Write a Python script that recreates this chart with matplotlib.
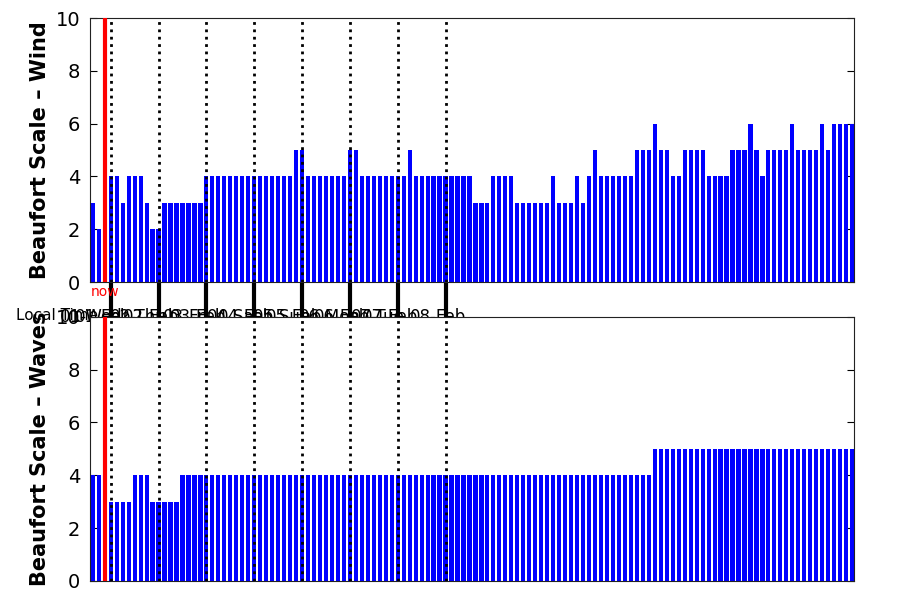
import numpy as np
import matplotlib.pyplot as plt

# 3-hourly forecast, hours relative to 01-Feb 00:00 local time
start_hour = -9
step_hours = 3
now_hour = -3

wind_bft = [3, 2, 2, 4, 4, 3, 4, 4, 4, 3, 2, 2, 3, 3, 3, 3, 3, 3, 3,
            4, 4, 4, 4, 4, 4, 4, 4, 4, 4, 4, 4, 4, 4, 4,
            5, 5, 4, 4, 4, 4, 4, 4, 4, 5, 5, 4, 4, 4, 4, 4, 4, 4, 4,
            5, 4, 4, 4, 4, 4, 4, 4, 4, 4, 4,
            3, 3, 3, 4, 4, 4, 4, 3, 3, 3, 3, 3, 3, 4, 3, 3, 3, 4, 3, 4,
            5, 4, 4, 4, 4, 4, 4, 5, 5, 5, 6, 5, 5, 4, 4, 5, 5, 5, 5,
            4, 4, 4, 4, 5, 5, 5, 6, 5, 4, 5, 5, 5, 5, 6, 5, 5, 5, 5,
            6, 5, 6, 6, 6, 6]

wave_bft = [4, 4, 4, 3, 3, 3, 3, 4, 4, 4, 3, 3, 3, 3, 3,
            4, 4, 4, 4, 4, 4, 4, 4, 4, 4, 4, 4, 4, 4, 4, 4, 4, 4, 4, 4,
            4, 4, 4, 4, 4, 4, 4, 4, 4, 4, 4, 4, 4, 4, 4, 4, 4, 4, 4, 4,
            4, 4, 4, 4, 4, 4, 4, 4, 4, 4, 4, 4, 4, 4, 4, 4, 4, 4, 4, 4,
            4, 4, 4, 4, 4, 4, 4, 4, 4, 4, 4, 4, 4, 4, 4, 4, 4, 4, 4,
            5, 5, 5, 5, 5, 5, 5, 5, 5, 5, 5, 5, 5, 5, 5, 5, 5, 5, 5, 5,
            5, 5, 5, 5, 5, 5, 5, 5, 5, 5, 5, 5, 5, 5]

day_numbers = [1, 2, 3, 4, 5, 6, 7, 8]
day_names = ['Wed', 'Thu', 'Fri', 'Sat', 'Sun', 'Mon', 'Tue']
month = 'Feb'

hours = start_hour + step_hours * np.arange(len(wind_bft))
day_hours = [(d - 1) * 24 for d in day_numbers]

fig = plt.figure(figsize=(9, 6), dpi=100)
ax1 = fig.add_axes([0.1, 0.53, 0.849, 0.44])
ax2 = fig.add_axes([0.1, 0.032, 0.849, 0.44])

for ax, vals, lab in [(ax1, wind_bft, 'Beaufort Scale \u2013 Wind'),
                      (ax2, wave_bft, 'Beaufort Scale \u2013 Waves')]:
    ax.bar(hours, vals, width=2.1, color='#0000ff', zorder=2)
    for h in day_hours:
        ax.axvline(h, color='black', linestyle=':', linewidth=2, zorder=3)
    ax.axvline(now_hour, color='red', linewidth=3, zorder=4)
    ax.set_xlim(-10.4, 373)
    ax.set_ylim(0, 10)
    ax.set_yticks([0, 2, 4, 6, 8, 10])
    ax.tick_params(axis='y', direction='in', length=5, width=0.8,
                   labelsize=14, right=True, pad=7)
    ax.set_ylabel(lab, fontsize=15, fontweight='bold', labelpad=4)
    for s in ax.spines.values():
        s.set_linewidth(0.8)
        s.set_color('#222222')
    ax.set_facecolor('white')

ax1.set_xticks(day_hours)
ax1.set_xticklabels([])
ax1.tick_params(axis='x', direction='out', length=36, width=3, color='black')
ax2.set_xticks([])

# date labels, half hidden behind the lower panel
for i, h in enumerate(day_hours):
    ax1.text(h - 4, -0.1, '%02d-%s' % (day_numbers[i], month),
             transform=ax1.get_xaxis_transform(), ha='center', va='top',
             fontsize=12, clip_on=False)
    if i < len(day_names):
        ax1.text(h - 10, -0.1, '%02d-%s' % (day_numbers[i], day_names[i]),
                 transform=ax1.get_xaxis_transform(), ha='center', va='top',
                 fontsize=12, clip_on=False)
ax1.text(16 / 900, 1 - 308 / 600, 'Local Time', transform=fig.transFigure,
         ha='left', va='top', fontsize=11)
ax1.text(now_hour, -0.01, 'now', transform=ax1.get_xaxis_transform(),
         color='red', ha='center', va='top', fontsize=10, clip_on=False)

plt.savefig('out.png', dpi=100)
